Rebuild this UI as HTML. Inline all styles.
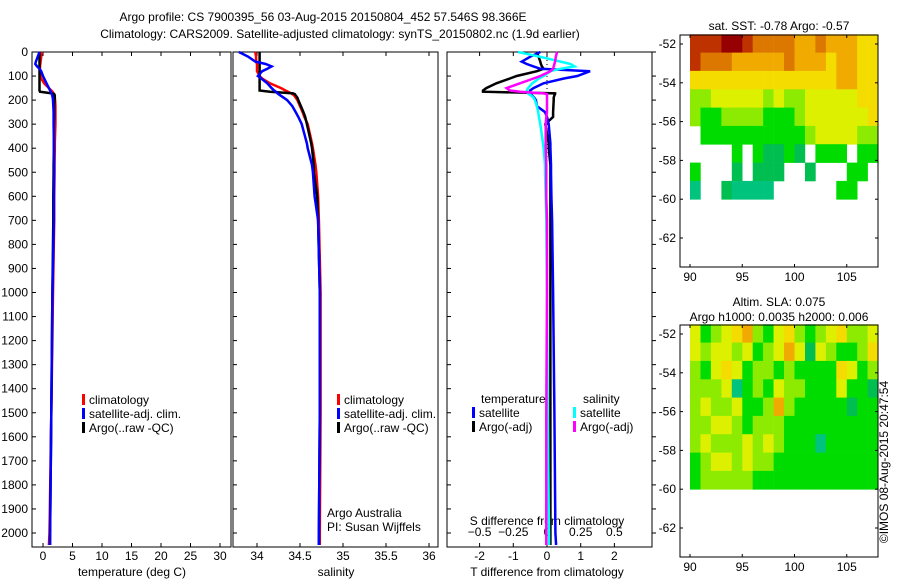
<!DOCTYPE html>
<html><head><meta charset="utf-8"><style>
body{margin:0;background:#fff;width:900px;height:580px;overflow:hidden}
svg{font-family:"Liberation Sans",sans-serif;font-size:12px}
</style></head><body>
<svg id="c" width="900" height="580"></svg>
<script>
const depths=[0,20,40,50,60,70,80,100,110,130,150,160,165,172,175,180,190,200,225,250,270,300,380,400,470,500,600,700,1000,1500,2000,2050];
const tempClim=[-0.2,-0.3,-0.4,-0.45,-0.5,-0.5,-0.5,-0.4,-0.3,0.2,1.0,1.4,1.6,1.8,1.85,1.9,2.0,2.05,2.1,2.1,2.1,2.1,2.0,2.0,1.95,1.95,1.9,1.9,1.7,1.4,1.1,1.0];
const tempSat=[-0.6,-0.9,-1.2,-1.3,-1.0,-0.6,-0.3,0.0,0.2,0.6,1.0,1.2,1.3,1.45,1.5,1.55,1.65,1.7,1.75,1.8,1.8,1.8,1.85,1.85,1.9,1.9,1.85,1.85,1.6,1.4,1.2,1.15];
const tempArgo=[-0.6,-0.6,-0.6,-0.6,-0.6,-0.6,-0.6,-0.6,-0.6,-0.6,-0.6,-0.6,-0.5,1.5,1.9,2.0,2.0,1.95,1.9,1.9,1.9,1.85,1.85,1.85,1.8,1.8,1.75,1.75,1.6,1.4,1.2,1.2];
const salClim=[33.98,33.99,33.99,34.0,34.0,34.0,34.0,34.03,34.06,34.15,34.28,34.33,34.36,34.4,34.41,34.43,34.45,34.47,34.5,34.53,34.55,34.59,34.64,34.65,34.68,34.69,34.71,34.72,34.74,34.74,34.73,34.73];
const salSat=[33.79,33.9,33.98,34.1,34.17,34.12,34.06,34.01,34.05,34.12,34.17,34.2,34.22,34.24,34.25,34.27,34.31,34.35,34.41,34.45,34.48,34.52,34.58,34.59,34.64,34.65,34.67,34.71,34.73,34.73,34.72,34.72];
const salArgo=[34.03,34.03,34.03,34.03,34.03,34.03,34.03,34.03,34.03,34.03,34.03,34.03,34.15,34.42,34.44,34.45,34.47,34.48,34.51,34.54,34.56,34.58,34.63,34.64,34.66,34.66,34.7,34.71,34.73,34.73,34.72,34.72];
const dTArgo=[-0.3,-0.25,-0.2,-0.18,-0.15,-0.1,-0.3,-0.9,-1.1,-1.5,-1.8,-1.9,-1.9,0.24,0.24,0.22,0.2,0.2,0.19,0.18,0.18,-0.05,0.05,0.05,0.1,0.1,0.1,0.1,0.1,0.1,0.1,0.1];
const dTSat=[-0.2,-0.5,-0.75,-0.6,-0.4,-0.2,1.28,0.9,0.5,-0.1,-0.4,-0.5,-0.5,-0.5,-0.48,-0.45,-0.38,-0.33,-0.3,-0.06,0.0,0.05,0.1,0.1,0.12,0.12,0.13,0.15,0.18,0.22,0.25,0.27];
const dSSat=[-0.215,-0.05,0.1,0.175,0.205,0.1,0.025,-0.025,-0.06,-0.11,-0.14,-0.15,-0.15,-0.14,-0.135,-0.12,-0.1,-0.09,-0.075,-0.065,-0.06,-0.05,-0.03,-0.025,-0.015,-0.015,-0.01,-0.005,0.0,0.005,0.015,0.015];
const dSArgo=[0.075,0.065,0.06,0.055,0.05,0.045,0.025,-0.05,-0.1,-0.2,-0.3,-0.275,-0.2,-0.025,0.0,0.0,0.0,0.0,0.0,0.0,-0.005,-0.01,-0.01,-0.01,-0.005,-0.005,-0.005,0.0,0.0,-0.005,-0.005,-0.005];
const depthTicks=[0,100,200,300,400,500,600,700,800,900,1000,1100,1200,1300,1400,1500,1600,1700,1800,1900,2000];
const tempTicks=[0,5,10,15,20,25,30];
const salTicks=[34,34.5,35,35.5,36];
const tdTicks=[-2,-1,0,1,2];
const sdTicks=[-0.5,-0.25,0,0.25,0.5];
const lonTicks=[90,95,100,105];
const latTicks=[-52,-54,-56,-58,-60,-62];
const sst=[
[9,9,9,10,10,9,8,8,8,8,7,7,8,7,7,7,6,6],
[9,8,8,8,7,7,7,7,7,8,7,7,7,6,7,7,6,6],
[6,6,6,6,6,6,6,6,6,6,6,6,6,6,7,7,6,6],
[4,4,5,5,5,5,5,4,5,4,4,5,5,5,5,5,6,6],
[4,3,3,4,4,4,4,3,3,3,4,5,5,5,5,5,5,6],
[null,3,3,3,3,3,3,3,3,3,3,4,5,5,5,5,4,4],
[null,null,null,null,3,null,3,2,2,3,2,null,3,3,3,null,3,3],
[3,null,null,null,2,null,2,2,2,null,null,2,null,null,null,3,3,null],
[1,null,null,2,1,1,1,1,null,null,null,null,null,null,3,3,null,null]];
const sla=[
[5,3,4,5,6,7,4,3,5,6,4,3,4,5,6,4,4,5],
[5,4,5,5,4,5,3,4,5,7,5,2,5,4,3,3,4,6],
[4,3,5,6,5,3,4,4,3,4,3,3,3,3,6,5,3,4],
[4,4,4,5,1,3,4,3,5,4,4,3,3,3,5,3,3,2],
[4,5,4,4,5,3,3,4,7,4,3,3,3,3,3,2,3,3],
[4,4,5,5,4,3,4,4,4,3,3,3,3,3,3,3,3,3],
[4,5,4,4,4,5,4,5,4,3,3,3,1,3,3,3,3,3],
[3,4,5,5,4,5,4,4,3,3,3,3,3,3,3,3,3,3],
[3,4,4,4,4,4,3,3,3,3,3,3,3,3,3,3,3,3]];

const NS='http://www.w3.org/2000/svg';
const svg=document.getElementById('c');
function mk(tag,at,parent){const e=document.createElementNS(NS,tag);for(const k in at)e.setAttribute(k,at[k]);(parent||svg).appendChild(e);return e;}
function txt(x,y,s,anchor,name,parent){const t=mk('text',{x:x,y:y,'text-anchor':anchor||'middle'},parent);t.textContent=s;


return t;}
const yD=d=>52+d*0.2405;
const P1={x0:32,x1:231},P2={x0:233,x1:438},P3={x0:447,x1:652};
const xT=t=>43+t*5.9, xS=s=>257+(s-34)*86, xDT=v=>547+v*33.7, xDS=v=>547+v*134.8;
const yBot=547;
function frame(P,name){const r=mk('rect',{x:P.x0,y:52,width:P.x1-P.x0,height:yBot-52,fill:'none',stroke:'#000','stroke-width':1});

}
frame(P1,'temperature-panel');frame(P2,'salinity-panel');frame(P3,'difference-panel');
depthTicks.forEach(d=>{const y=yD(d);
[P1,P2,P3].forEach(P=>{mk('line',{x1:P.x0,x2:P.x0+4,y1:y,y2:y,stroke:'#000'});});
mk('line',{x1:P3.x1,x2:P3.x1+4,y1:y,y2:y,stroke:'#000'});
txt(28,y+4,String(d),'end','depth-tick-label');});
function xticks(arr,f,P,fmt,name,yl){arr.forEach(v=>{const x=f(v);mk('line',{x1:x,x2:x,y1:yBot,y2:yBot-4,stroke:'#000'});mk('line',{x1:x,x2:x,y1:52,y2:56,stroke:'#000'});txt(x,yl,fmt(v),'middle',name);});}
xticks(tempTicks,xT,P1,v=>String(v),'temperature-tick-label',560);
xticks(salTicks,xS,P2,v=>String(v),'salinity-tick-label',560);
xticks(tdTicks,xDT,P3,v=>String(v),'t-diff-tick-label',560);
sdTicks.forEach(v=>{txt(xDS(v),536,String(v).replace('-','\u2212'),'middle','s-diff-tick-label');});
txt(547,525,'S difference from climatology','middle','s-diff-axis-title');
txt(132,576,'temperature (deg C)','middle','temperature-axis-title');
txt(336,576,'salinity','middle','salinity-axis-title');
txt(547,576,'T difference from climatology','middle','t-diff-axis-title');
mk('line',{x1:547,x2:547,y1:52,y2:yBot,stroke:'#000','stroke-dasharray':'1,3'});
function line(vals,fx,color,name,w){const pts=vals.map((v,i)=>fx(v).toFixed(1)+','+yD(depths[i]).toFixed(1)).join(' ');
const p=mk('polyline',{points:pts,fill:'none',stroke:color,'stroke-width':w||2.5});

}
line(tempClim,xT,'#f00','temp-climatology-line');line(tempArgo,xT,'#000','temp-argo-line');line(tempSat,xT,'#00f','temp-satellite-line');
line(salClim,xS,'#f00','sal-climatology-line');line(salArgo,xS,'#000','sal-argo-line');line(salSat,xS,'#00f','sal-satellite-line');
line(dTArgo,xDT,'#000','t-diff-argo-line');line(dTSat,xDT,'#00f','t-diff-satellite-line');
line(dSSat,xDS,'#0ff','s-diff-satellite-line');line(dSArgo,xDS,'#f0f','s-diff-argo-line');
function leg(x,y,color,s,name){mk('rect',{x:x,y:y-10,width:3,height:11,fill:color});txt(x+7,y,s,'start',name);}
leg(82,404,'#f00','climatology','legend-climatology');leg(82,418,'#00f','satellite-adj. clim.','legend-satellite');leg(82,432,'#000','Argo(..raw -QC)','legend-argo');
leg(337,404,'#f00','climatology','legend2-climatology');leg(337,418,'#00f','satellite-adj. clim.','legend2-satellite');leg(337,432,'#000','Argo(..raw -QC)','legend2-argo');
txt(481,403,'temperature','start','legend-temperature-heading');txt(583,403,'salinity','start','legend-salinity-heading');
leg(472,417,'#00f','satellite','legend-t-satellite');leg(472,431,'#000','Argo(-adj)','legend-t-argo');
leg(573,417,'#0ff','satellite','legend-s-satellite');leg(573,431,'#f0f','Argo(-adj)','legend-s-argo');
txt(327,517,'Argo Australia','start','argo-australia-label');txt(327,531,'PI: Susan Wijffels','start','pi-label');
txt(323,21,'Argo profile: CS 7900395_56 03-Aug-2015 20150804_452 57.546S 98.366E','middle','title-line-1');
txt(340,38,'Climatology: CARS2009. Satellite-adjusted climatology: synTS_20150802.nc (1.9d earlier)','middle','title-line-2');
const stops=[[0,[0,200,170]],[2,[0,190,80]],[3,[0,220,0]],[4,[140,235,0]],[5,[220,240,0]],[6,[245,220,0]],[7,[240,170,0]],[8,[220,120,0]],[9,[190,50,0]],[10,[150,0,0]]];
function col(v){for(let i=1;i<stops.length;i++){if(v<=stops[i][0]){const a=stops[i-1],b=stops[i],t=(v-a[0])/(b[0]-a[0]);return 'rgb('+a[1].map((c,j)=>Math.round(c+(b[1][j]-c)*t)).join(',')+')';}}return 'rgb(150,0,0)';}
function map(grid,y0,name,title1,title2){
const xL=lon=>690+(lon-90)*10.45, yL=lat=>y0+(-52-lat)*19.4;
const g=mk('g',{});


const rh=8.5/9;
grid.forEach((row,i)=>row.forEach((v,j)=>{if(v===null)return;
const la=-51.5-i*rh;
mk('rect',{x:xL(90+j).toFixed(1),y:yL(la).toFixed(1),width:10.7,height:(rh*19.4+0.4).toFixed(1),fill:col(v)},g);}));
const bx=680,bt=y0-9,bb=y0+223;
mk('rect',{x:bx,y:bt,width:198,height:bb-bt,fill:'none',stroke:'#000'});
lonTicks.forEach(l=>{const x=xL(l);mk('line',{x1:x,x2:x,y1:bt,y2:bt+3,stroke:'#000'});mk('line',{x1:x,x2:x,y1:bb,y2:bb-3,stroke:'#000'});txt(x,bb+14,String(l),'middle','lon-tick-label');});
latTicks.forEach(l=>{const y=yL(l);mk('line',{x1:bx,x2:bx+3,y1:y,y2:y,stroke:'#000'});mk('line',{x1:878,x2:875,y1:y,y2:y,stroke:'#000'});txt(676,y+4,String(l),'end','lat-tick-label');});
if(title2){txt(779,bt-19,title1,'middle','map-title');txt(779,bt-4,title2,'middle','map-subtitle');}else txt(779,bt-5,title1,'middle','map-title');
}
map(sst,44,'sst-map','sat. SST: -0.78 Argo: -0.57');
map(sla,334,'sla-map','Altim. SLA: 0.075','Argo h1000: 0.0035 h2000: 0.006');
const cr=txt(0,0,'©IMOS 08-Aug-2015 20:47:54','middle','copyright-label');
cr.setAttribute('transform','translate(888,462) rotate(-90)');
</script>
</body></html>
